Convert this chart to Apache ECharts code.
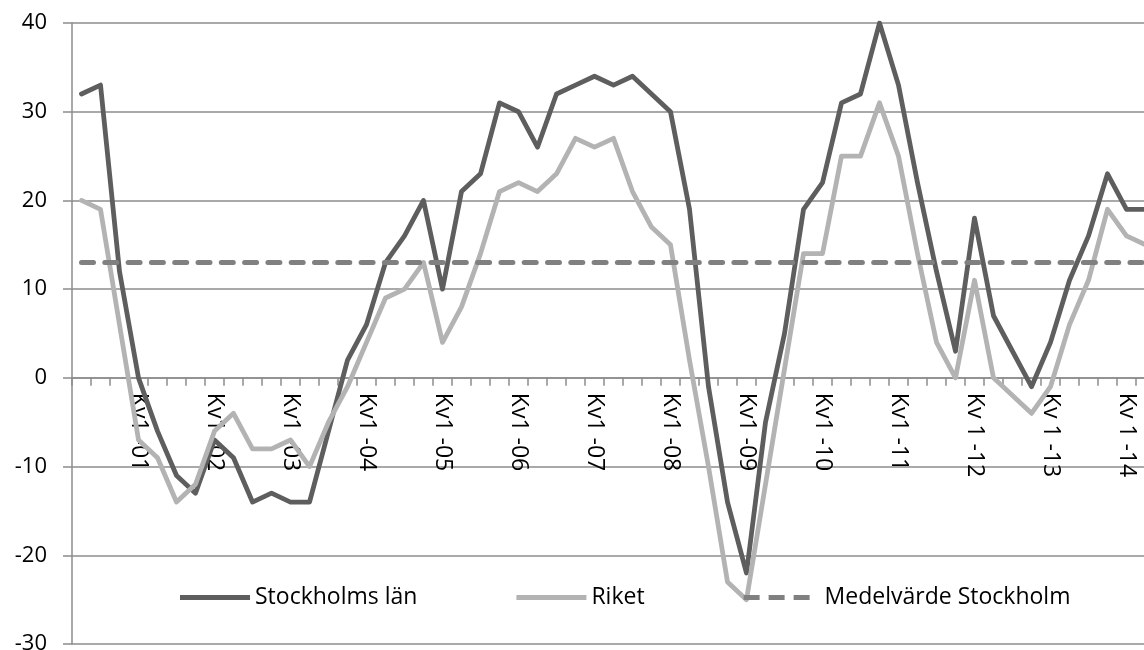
<!DOCTYPE html>
<html>
<head>
<meta charset="utf-8">
<script src="https://cdn.jsdelivr.net/npm/echarts@6/dist/echarts.min.js"></script>
<style>
html,body{margin:0;padding:0;background:#fff;overflow:hidden;width:1144px;height:650px;}
#chart{position:absolute;left:0;top:0;width:1200px;height:650px;}
</style>
</head>
<body>
<div id="chart"></div>
<script>
const categories = [
  'Kv2 -00','Kv3 -00','Kv4 -00',
  'Kv1 -01','Kv2 -01','Kv3 -01','Kv4 -01',
  'Kv1 -02','Kv2 -02','Kv3 -02','Kv4 -02',
  'Kv1 -03','Kv2 -03','Kv3 -03','Kv4 -03',
  'Kv1 -04','Kv2 -04','Kv3 -04','Kv4 -04',
  'Kv1 -05','Kv2 -05','Kv3 -05','Kv4 -05',
  'Kv1 -06','Kv2 -06','Kv3 -06','Kv4 -06',
  'Kv1 -07','Kv2 -07','Kv3 -07','Kv4 -07',
  'Kv1 -08','Kv2 -08','Kv3 -08','Kv4 -08',
  'Kv1 -09','Kv2 -09','Kv3 -09','Kv4 -09',
  'Kv1 -10','Kv2 -10','Kv3 -10','Kv4 -10',
  'Kv1 -11','Kv2 -11','Kv3 -11','Kv4 -11',
  'Kv 1 -12','Kv 2 -12','Kv 3 -12','Kv 4 -12',
  'Kv 1 -13','Kv 2 -13','Kv 3 -13','Kv 4 -13',
  'Kv 1 -14','Kv 2 -14'
];
const stockholm = [32,33,12,0,-6,-11,-13,-7,-9,-14,-13,-14,-14,-6,2,6,13,16,20,10,21,23,31,30,26,32,33,34,33,34,32,30,19,-1,-14,-22,-5,5,19,22,31,32,40,33,22,12,3,18,7,3,-1,4,11,16,23,19,19];
const riket = [20,19,6,-7,-9,-14,-12,-6,-4,-8,-8,-7,-10,-5,-1,4,9,10,13,4,8,14,21,22,21,23,27,26,27,21,17,15,2,-10,-23,-25,-12,1,14,14,25,25,31,25,14,4,0,11,0,-2,-4,-1,6,11,19,16,15];
const medelvarde = [13,13,13,13,13,13,13,13,13,13,13,13,13,13,13,13,13,13,13,13,13,13,13,13,13,13,13,13,13,13,13,13,13,13,13,13,13,13,13,13,13,13,13,13,13,13,13,13,13,13,13,13,13,13,13,13,13];
const seriesNames = ['Stockholms län','Riket','Medelvärde Stockholm'];
const yTicks = {min:-30, max:40, interval:10};

const FONT = '"Open Sans", sans-serif';
const GRID_TOP = 23, GRID_H = 621;
// place the category axis on the value 0 line
const zeroOffset = -GRID_H * (0 - yTicks.min) / (yTicks.max - yTicks.min);

const chart = echarts.init(document.getElementById('chart'), null, {renderer:'canvas'});
chart.setOption({
  animation:false,
  backgroundColor:'#ffffff',
  grid:{left:72, top:GRID_TOP, width:1083, height:GRID_H, containLabel:false, outerBoundsMode:'none'},
  legend:{
    left:180, top:586, padding:0,
    itemWidth:70, itemHeight:5, itemGap:99,
    textStyle:{fontFamily:FONT, fontSize:23, color:'#000'},
    data:[
      {name:seriesNames[0], icon:'rect', itemStyle:{color:'#5e5e5e'}},
      {name:seriesNames[1], icon:'rect', itemStyle:{color:'#b3b3b3'}},
      {name:seriesNames[2], icon:'path://M0 0H16V5H0Z M25 0H41V5H25Z M50 0H66V5H50Z', itemStyle:{color:'#808080'},
       textStyle:{padding:[0,0,0,8]}}
    ]
  },
  xAxis:{
    type:'category', data:categories, boundaryGap:true,
    offset:zeroOffset,
    axisLine:{show:true, onZero:false, lineStyle:{color:'#8c8c8c', width:1.5}},
    axisTick:{show:true, interval:0, length:8, lineStyle:{color:'#8c8c8c', width:1.5}},
    axisLabel:{
      interval:function(i){return i % 4 === 3;},
      rotate:-90, margin:15,
      fontFamily:FONT, fontSize:23, color:'#000'
    },
    splitLine:{show:false}
  },
  yAxis:{
    type:'value', min:yTicks.min, max:yTicks.max, interval:yTicks.interval,
    axisLine:{show:true, lineStyle:{color:'#8c8c8c', width:1.5}},
    axisTick:{show:true, length:9, lineStyle:{color:'#8c8c8c', width:1.5}},
    axisLabel:{margin:25, fontFamily:FONT, fontSize:22, color:'#000'},
    splitLine:{show:true, lineStyle:{color:'#8c8c8c', width:1.5}}
  },
  series:[
    {name:seriesNames[0], type:'line', data:stockholm, symbol:'none', showSymbol:false, z:2,
     lineStyle:{color:'#5e5e5e', width:4.8, join:'round', cap:'round'}, itemStyle:{color:'#5e5e5e'}},
    {name:seriesNames[1], type:'line', data:riket, symbol:'none', showSymbol:false, z:3,
     lineStyle:{color:'#b3b3b3', width:4.8, join:'round', cap:'round'}, itemStyle:{color:'#b3b3b3'}},
    {name:seriesNames[2], type:'line', data:medelvarde, symbol:'none', showSymbol:false, z:4,
     lineStyle:{color:'#808080', width:5, type:[12,11.3], cap:'round'}, itemStyle:{color:'#808080'}}
  ]
});
</script>
</body>
</html>
